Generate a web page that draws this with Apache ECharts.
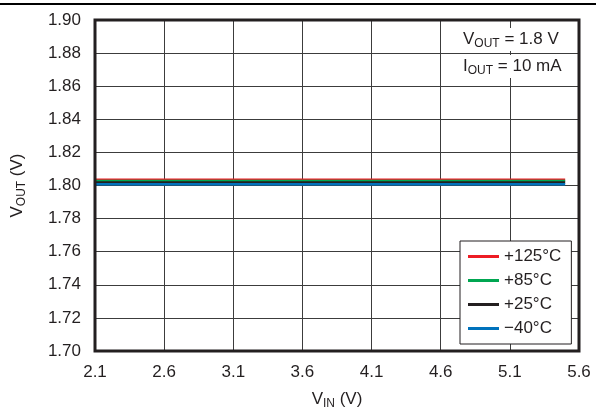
<!DOCTYPE html>
<html>
<head>
<meta charset="utf-8">
<script src="https://cdn.jsdelivr.net/npm/echarts@6/dist/echarts.min.js"></script>
<style>
  html, body { margin: 0; padding: 0; background: #fff; }
  #chart { width: 596px; height: 407px; }
</style>
</head>
<body>
<div id="chart"></div>
<script>
// input voltage points (V)
var vin = [2.1, 2.6, 3.1, 3.6, 4.1, 4.6, 5.1, 5.5];
// output voltage per temperature (V), flat across the range
var vout125 = [1.8034, 1.8034, 1.8034, 1.8034, 1.8034, 1.8034, 1.8034, 1.8034];
var vout85 = [1.8027, 1.8027, 1.8027, 1.8027, 1.8027, 1.8027, 1.8027, 1.8027];
var vout25 = [1.8018, 1.8018, 1.8018, 1.8018, 1.8018, 1.8018, 1.8018, 1.8018];
var voutM40 = [1.8008, 1.8008, 1.8008, 1.8008, 1.8008, 1.8008, 1.8008, 1.8008];
var seriesNames = ['+125°C', '+85°C', '+25°C', '\u221240°C'];
var seriesColors = ['#ed1c24', '#00a651', '#231f20', '#0072bc'];

function pairs(xs, ys) {
  return xs.map(function (x, i) { return [x, ys[i]]; });
}

var chartDom = document.getElementById('chart');
var myChart = echarts.init(chartDom);
var font = 'Liberation Sans, Arial, sans-serif';
var ink = '#231f20';
var allData = [vout125, vout85, vout25, voutM40];

// rich styles for "X sub" labels
var nameRich = {
  v: { fontSize: 17, color: ink, fontFamily: font },
  s: { fontSize: 12, color: ink, fontFamily: font, padding: [9, 0, 0, 0] }
};
var noteRich = {
  v: { fontSize: 17, fill: ink, fontFamily: font },
  s: { fontSize: 12, fill: ink, fontFamily: font, padding: [9, 0, 0, 0] }
};

var option = {
  backgroundColor: '#fff',
  animation: false,
  textStyle: { fontFamily: font },
  grid: {
    left: 95,
    right: 17,
    top: 20,
    bottom: 56,
    outerBoundsMode: 'none',
    containLabel: false,
    show: true,
    borderColor: ink,
    borderWidth: 3,
    z: 10
  },
  legend: {
    orient: 'vertical',
    left: 460,
    top: 241,
    backgroundColor: '#fff',
    borderColor: ink,
    borderWidth: 1,
    borderRadius: 0,
    padding: [7, 10, 7, 8],
    itemGap: 7,
    itemWidth: 31,
    itemHeight: 3,
    icon: 'rect',
    textStyle: { fontSize: 17, color: ink, fontFamily: font },
    data: seriesNames
  },
  xAxis: {
    type: 'value',
    min: 2.1,
    max: 5.6,
    interval: 0.5,
    name: '{v|V}{s|IN}{v| (V)}',
    nameLocation: 'middle',
    nameGap: 38,
    nameTextStyle: { rich: nameRich },
    axisLine: { show: false },
    axisTick: { show: false },
    axisLabel: {
      margin: 13,
      fontSize: 17,
      color: ink,
      formatter: function (v) { return v.toFixed(1); }
    },
    splitLine: { show: true, lineStyle: { color: '#3c3c3c', width: 1 } }
  },
  yAxis: {
    type: 'value',
    min: 1.7,
    max: 1.9,
    interval: 0.02,
    name: '{v|V}{s|OUT}{v| (V)}',
    nameLocation: 'middle',
    nameGap: 67,
    nameTextStyle: { rich: nameRich },
    axisLine: { show: false },
    axisTick: { show: false },
    axisLabel: {
      margin: 14,
      fontSize: 17,
      color: ink,
      formatter: function (v) { return v.toFixed(2); }
    },
    splitLine: { show: true, lineStyle: { color: '#3c3c3c', width: 1 } }
  },
  graphic: [
    {
      type: 'line',
      shape: { x1: 0, y1: 4, x2: 596, y2: 4 },
      style: { stroke: '#000', lineWidth: 2 }
    },
    {
      type: 'text',
      left: 461,
      top: 28,
      z: 20,
      style: {
        text: '{v|V}{s|OUT}{v| = 1.8 V}',
        backgroundColor: '#fff',
        padding: [1, 2, 1, 2],
        rich: noteRich
      }
    },
    {
      type: 'text',
      left: 461,
      top: 55,
      z: 20,
      style: {
        text: '{v|I}{s|OUT}{v| = 10 mA}',
        backgroundColor: '#fff',
        padding: [1, 2, 1, 2],
        rich: noteRich
      }
    }
  ],
  series: seriesNames.map(function (name, i) {
    return {
      name: name,
      type: 'line',
      data: pairs(vin, allData[i]),
      showSymbol: false,
      symbol: 'none',
      lineStyle: { color: seriesColors[i], width: 2.5 },
      itemStyle: { color: seriesColors[i] }
    };
  })
};

option && myChart.setOption(option);
</script>
</body>
</html>
